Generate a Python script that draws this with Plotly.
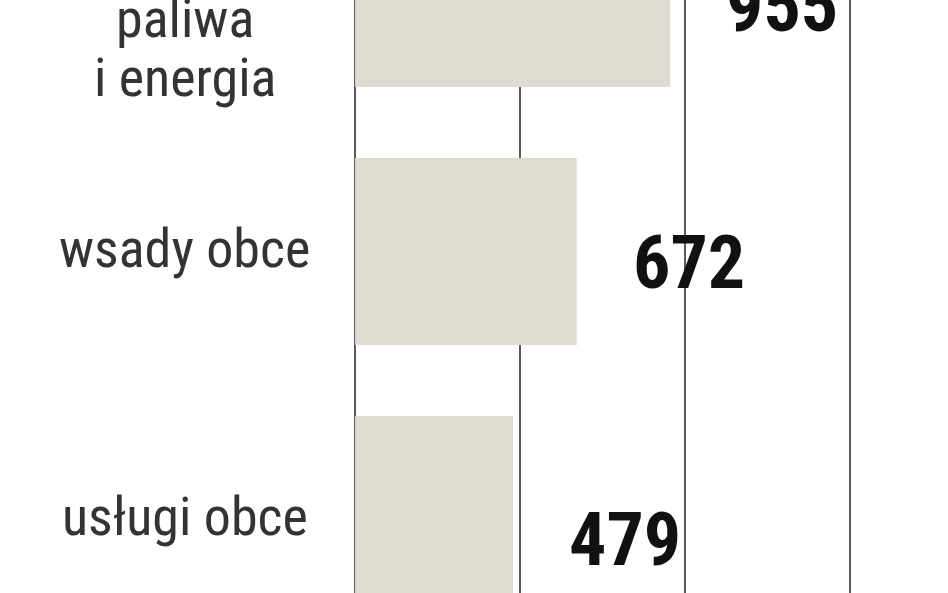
import plotly.graph_objects as go

categories = ["paliwa<br>i energia", "wsady obce", "usługi obce"]
values = [955, 672, 479]
value_labels = ["955", "672", "479"]
grid_ticks = [0, 500, 1000, 1500]

BAR_COLOR = "#dedcd0"
GRID_COLOR = "#5a5a5a"
NARROW = "Roboto Condensed, Liberation Sans Narrow, DejaVu Sans Condensed, Arial Narrow, sans-serif"

# per-row vertical offsets (in row units) for the text labels
num_dy = [0.048, 0.041, 0.118]
cat_dy = [0.213, -0.010, 0.029]
LINE_PX = 59

rows = list(range(len(categories)))

fig = go.Figure()
fig.add_trace(go.Bar(
    x=values, y=rows, orientation="h",
    marker=dict(color=BAR_COLOR, line=dict(width=0)),
    width=0.725, hoverinfo="skip",
))

for i, (cat, v, t) in enumerate(zip(categories, values, value_labels)):
    fig.add_annotation(x=v, y=i + num_dy[i], text=f"<b>{t}</b>", showarrow=False,
                       xanchor="left", yanchor="middle", xshift=54,
                       font=dict(family=NARROW, size=74, color="#111111"))
    lines = cat.split("<br>")
    n = len(lines)
    for k, line in enumerate(lines):
        fig.add_annotation(x=0.195, xref="paper", y=i + cat_dy[i], text=line,
                           showarrow=False, xanchor="center", yanchor="middle",
                           yshift=-(k - (n - 1) / 2) * LINE_PX,
                           font=dict(family=NARROW, size=54, color="#333333"))

fig.update_xaxes(range=[-1076, 1797], tickvals=grid_ticks, showticklabels=False,
                 showgrid=True, gridcolor=GRID_COLOR, gridwidth=2,
                 zeroline=True, zerolinecolor=GRID_COLOR, zerolinewidth=2,
                 showline=False, fixedrange=True)
fig.update_yaxes(range=[2.324, 0.025], showticklabels=False, showgrid=False,
                 zeroline=False, showline=False)

fig.update_layout(width=948, height=593, margin=dict(l=0, r=0, t=0, b=0),
                  plot_bgcolor="white", paper_bgcolor="white", showlegend=False)

fig.write_html("out.html", config={"displayModeBar": False},
               post_script="document.body.style.margin='0';")
